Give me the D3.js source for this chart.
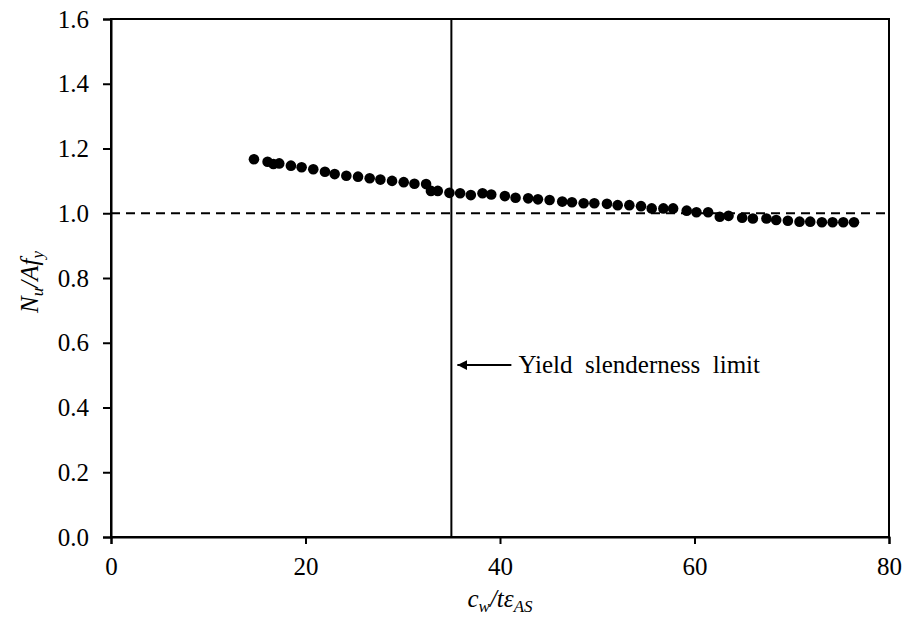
<!DOCTYPE html>
<html>
<head>
<meta charset="utf-8">
<script src="https://cdn.jsdelivr.net/npm/d3@7"></script>
<style>
  html, body { margin: 0; padding: 0; background: #fff; }
  svg { display: block; }
  svg text { font-family: "Liberation Serif", "Times New Roman", serif !important; fill: #000; }
</style>
</head>
<body>
<svg id="chart" width="908" height="619"></svg>
<script>
// ---- data ----
const slenderness = [14.7, 16.1, 16.7, 17.3, 18.5, 19.6, 20.8, 22.0, 23.0, 24.2, 25.4, 26.6, 27.7, 28.9, 30.1, 31.2, 32.4, 32.9, 33.6, 34.8, 35.9,
  37.0, 38.2, 39.1, 40.5, 41.6, 42.9, 43.9, 45.1, 46.4, 47.4, 48.6, 49.7, 51.0, 52.1, 53.3, 54.5,
  55.6, 56.8, 57.8, 59.2, 60.2, 61.4, 62.6, 63.5, 64.9, 66.0, 67.4, 68.4, 69.6, 70.8, 71.9, 73.1, 74.2, 75.3, 76.4];
const strengthRatio = [1.167, 1.159, 1.152, 1.154, 1.147, 1.142, 1.136, 1.128, 1.121, 1.116, 1.113, 1.108, 1.104, 1.100, 1.096, 1.091, 1.090, 1.069, 1.069, 1.063, 1.062,
  1.056, 1.062, 1.058, 1.053, 1.048, 1.046, 1.043, 1.041, 1.036, 1.034, 1.031, 1.031, 1.029, 1.025, 1.025, 1.022,
  1.015, 1.015, 1.015, 1.008, 1.003, 1.003, 0.989, 0.992, 0.986, 0.984, 0.984, 0.979, 0.977, 0.974, 0.974, 0.972, 0.972, 0.972, 0.972];
const xTicks = [0, 20, 40, 60, 80];
const yTicks = [0, 0.2, 0.4, 0.6, 0.8, 1.0, 1.2, 1.4, 1.6];
const yieldLimit = 35;
const unityLine = 1.0;
const annotationText = "Yield  slenderness  limit";
const annotationY = 0.531;

// ---- layout ----
const W = 908, H = 619;
const margin = { left: 111, right: 19, top: 19, bottom: 82 };
const svg = d3.select("#chart");
const x = d3.scaleLinear().domain([0, 80]).range([margin.left, W - margin.right]);
const y = d3.scaleLinear().domain([0, 1.6]).range([H - margin.bottom, margin.top]);
const fs = 25;
const serif = "'Liberation Serif', 'Times New Roman', serif";

// frame
svg.append("rect")
  .attr("x", x(0)).attr("y", y(1.6))
  .attr("width", x(80) - x(0)).attr("height", y(0) - y(1.6))
  .attr("fill", "none").attr("stroke", "#000").attr("stroke-width", 2);

// axes
const xAxis = d3.axisBottom(x).tickValues(xTicks).tickSize(7).tickPadding(13).tickFormat(d3.format("d"));
const gx = svg.append("g").attr("transform", `translate(0,${y(0)})`).call(xAxis);
const yAxis = d3.axisLeft(y).tickValues(yTicks).tickSize(8).tickPadding(14).tickFormat(d3.format(".1f"));
const gy = svg.append("g").attr("transform", `translate(${x(0)},0)`).call(yAxis);
[gx, gy].forEach(g => {
  g.attr("font-family", null).attr("font-size", null);
  g.select(".domain").attr("stroke", "#000").attr("stroke-width", 2);
  g.selectAll(".tick line").attr("stroke", "#000").attr("stroke-width", 2);
  g.selectAll(".tick text").style("font-family", serif).style("font-size", fs + "px").attr("fill", "#000");
});

// dashed unity line
svg.append("line")
  .attr("x1", x(0)).attr("x2", x(80))
  .attr("y1", y(unityLine)).attr("y2", y(unityLine))
  .attr("stroke", "#000").attr("stroke-width", 2).attr("stroke-dasharray", "9,6");

// vertical yield limit line
svg.append("line")
  .attr("x1", x(yieldLimit)).attr("x2", x(yieldLimit))
  .attr("y1", y(0)).attr("y2", y(1.6))
  .attr("stroke", "#000").attr("stroke-width", 2);

// points
svg.append("g").selectAll("circle")
  .data(slenderness.map((v, i) => [v, strengthRatio[i]]))
  .join("circle")
  .attr("cx", d => x(d[0])).attr("cy", d => y(d[1]))
  .attr("r", 5.3).attr("fill", "#000");

// arrow annotation
svg.append("defs").append("marker")
  .attr("id", "ah").attr("viewBox", "0 0 10 10").attr("refX", 10).attr("refY", 5)
  .attr("markerWidth", 5).attr("markerHeight", 5).attr("markerUnits", "strokeWidth")
  .attr("orient", "auto")
  .append("path").attr("d", "M0,0 L10,5 L0,10 Z").attr("fill", "#000");
svg.append("line")
  .attr("x1", x(yieldLimit) + 60).attr("x2", x(yieldLimit) + 6)
  .attr("y1", y(annotationY)).attr("y2", y(annotationY))
  .attr("stroke", "#000").attr("stroke-width", 2).attr("marker-end", "url(#ah)");
svg.append("text")
  .attr("x", x(yieldLimit) + 67).attr("y", y(annotationY) + 8)
  .style("font-size", fs + "px").style("white-space", "pre")
  .text(annotationText);

// x title
const xt = svg.append("text")
  .attr("x", (x(0) + x(80)) / 2).attr("y", 607)
  .attr("text-anchor", "middle").style("font-size", fs + "px").attr("font-style", "italic");
xt.append("tspan").text("c");
xt.append("tspan").style("font-size", "17px").attr("dy", 5).text("w");
xt.append("tspan").attr("dy", -5).text("/tε");
xt.append("tspan").style("font-size", "17px").attr("dy", 5).text("AS");

// y title
const yt = svg.append("text")
  .attr("transform", `translate(38,${(y(0) + y(1.6)) / 2 + 4}) rotate(-90)`)
  .attr("text-anchor", "middle").style("font-size", fs + "px").attr("font-style", "italic");
yt.append("tspan").text("N");
yt.append("tspan").style("font-size", "17px").attr("dy", 5).text("u");
yt.append("tspan").attr("dy", -5).text("/Af");
yt.append("tspan").style("font-size", "17px").attr("dy", 5).text("y");
</script>
</body>
</html>
